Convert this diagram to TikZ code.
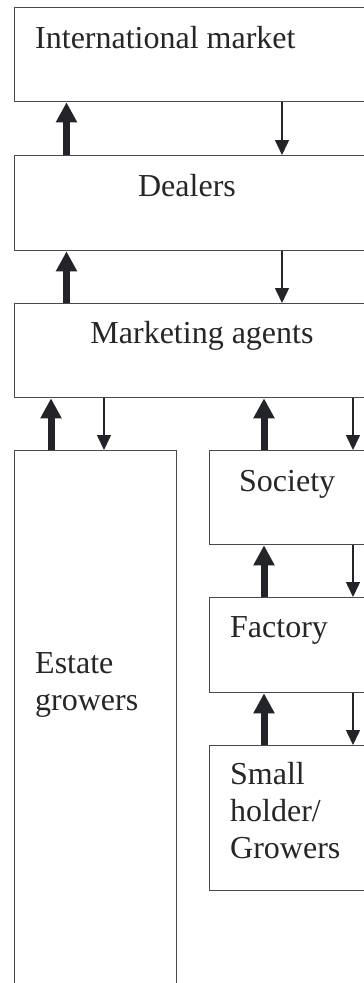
\documentclass[tikz,border=0pt]{standalone}
\usepackage{fontspec}
\setmainfont{Liberation Serif}
\usepackage{tikz}
\usetikzlibrary{arrows.meta}
\definecolor{boxline}{RGB}{70,72,82}
\definecolor{arrowink}{RGB}{35,36,42}
\tikzset{
  chainbox/.style={rectangle, draw=boxline, line width=1.3pt, anchor=north west,
                   inner sep=0pt, minimum height=95pt},
  boxtext/.style={anchor=base west, inner sep=0pt, text=black!85,
                  font=\fontsize{32}{37}\selectfont, align=left},
  flowup/.style={-{Triangle[width=20pt, length=20pt]}, line width=7pt, arrowink},
  flowdown/.style={-{Triangle[width=14pt, length=15pt]}, line width=1.5pt, arrowink},
}
\begin{document}
\begin{tikzpicture}[x=1pt, y=-1pt]
\clip (0,0) rectangle (364,983);
\fill[white] (0,0) rectangle (364,983);
% boxes (right edges run off the page)
\node[chainbox, minimum width=380pt, minimum height=94pt] (intl) at (14,7) {};
\node[chainbox, minimum width=380pt] (dealers) at (14,155) {};
\node[chainbox, minimum width=380pt, minimum height=94pt] (agents) at (14,303) {};
\node[chainbox, minimum width=162pt, minimum height=560pt] (estate) at (14,450) {};
\node[chainbox, minimum width=180pt, minimum height=94pt] (society) at (209,450) {};
\node[chainbox, minimum width=180pt] (factory) at (209,597) {};
\node[chainbox, minimum width=180pt, minimum height=145pt] (small) at (209,745) {};
% texts (base = last line)
\node[boxtext] (tintl) at (35,48) {International market};
\node[boxtext, anchor=base] (tdealers) at (187,196) {Dealers};
\node[boxtext, anchor=base] (tagents) at (202,343) {Marketing agents};
\node[boxtext] (testate) at (35,710) {Estate\\growers};
\node[boxtext] (tsociety) at (239,491) {Society};
\node[boxtext] (tfactory) at (230,637) {Factory};
\node[boxtext] (tsmall) at (230,858) {Small\\holder/\\Growers};
% flows upward (thick) and downward (thin)
\draw[flowup] ([xshift=52.5]dealers.north west) -- ([xshift=52.5]intl.south west);
\draw[flowdown] ([xshift=268]intl.south west) -- ([xshift=268]dealers.north west);
\draw[flowup] ([xshift=52.5]agents.north west) -- ([xshift=52.5]dealers.south west);
\draw[flowdown] ([xshift=268]dealers.south west) -- ([xshift=268]agents.north west);
\draw[flowup] ([xshift=37]estate.north west) -- ([xshift=37]agents.south west);
\draw[flowdown] ([xshift=90]agents.south west) -- ([xshift=90]estate.north west);
\draw[flowup] ([xshift=55]society.north west) -- ([xshift=250]agents.south west);
\draw[flowdown] ([xshift=339]agents.south west) -- ([xshift=144]society.north west);
\draw[flowup] ([xshift=55]factory.north west) -- ([xshift=55]society.south west);
\draw[flowdown] ([xshift=144]society.south west) -- ([xshift=144]factory.north west);
\draw[flowup] ([xshift=55]small.north west) -- ([xshift=55]factory.south west);
\draw[flowdown] ([xshift=144]factory.south west) -- ([xshift=144]small.north west);
\end{tikzpicture}
\end{document}
